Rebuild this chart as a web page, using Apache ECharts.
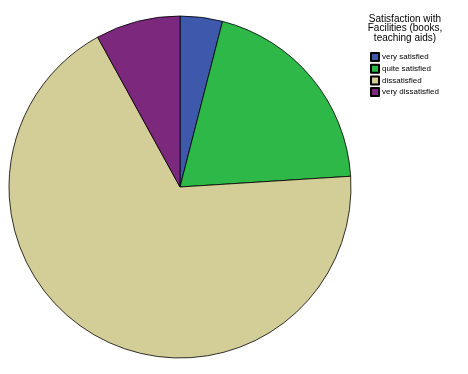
<!DOCTYPE html>
<html><head><meta charset="utf-8">
<script src="https://cdn.jsdelivr.net/npm/echarts@6/dist/echarts.min.js"></script>
<style>html,body{margin:0;padding:0;background:#fff}#c{width:468px;height:374px}</style>
</head><body><div id="c"></div>
<script>
const categories = ["very satisfied", "quite satisfied", "dissatisfied", "very dissatisfied"];
const values = [1, 5, 17, 2];
const colors = ["#3E58AC", "#2EB848", "#D3CE97", "#7C287D"];
const legendTitle = "Satisfaction with\nFacilities (books,\nteaching aids)";

const chart = echarts.init(document.getElementById('c'));
chart.setOption({
  animation: false,
  title: {
    text: legendTitle, left: 405, top: 14, textAlign: 'center', padding: 0,
    textStyle: {fontFamily: 'Liberation Sans', fontSize: 10, fontWeight: 'normal', color: '#000', lineHeight: 9.5, align: 'center'}
  },
  legend: {
    orient: 'vertical', left: 370, top: 52, itemWidth: 8, itemHeight: 8, itemGap: 1.7, padding: 0,
    icon: 'rect',
    textStyle: {fontFamily: 'Liberation Sans', fontSize: 8, color: '#000', padding: [0,0,0,-2]},
    data: categories
  },
  series: [{
    type: 'pie', center: [180, 187], radius: 171, startAngle: 90, clockwise: true,
    label: {show: false}, labelLine: {show: false}, emphasis: {disabled: true},
    itemStyle: {borderColor: '#000', borderWidth: 0.8},
    data: categories.map((c, i) => ({name: c, value: values[i], itemStyle: {color: colors[i]}}))
  }]
});
</script></body></html>
